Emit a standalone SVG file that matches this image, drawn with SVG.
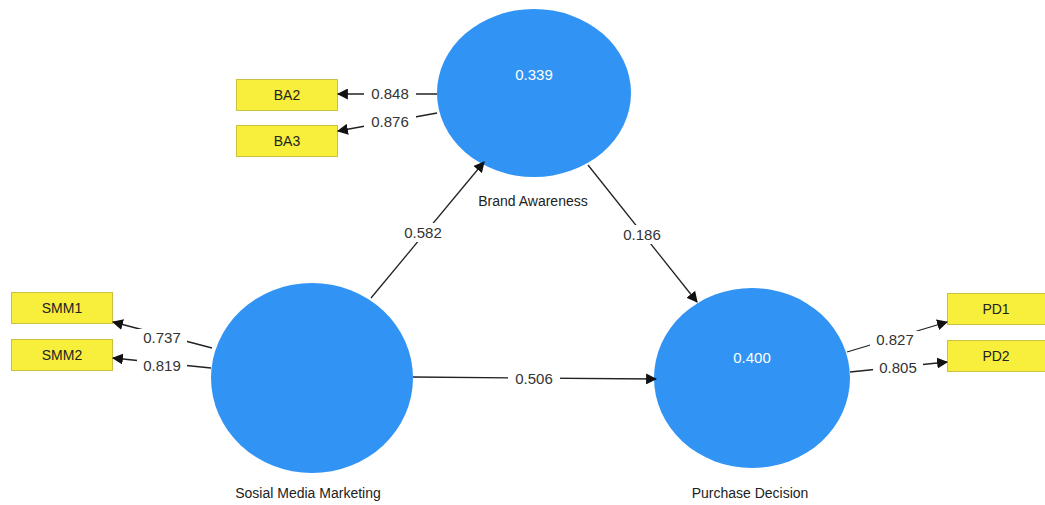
<svg xmlns="http://www.w3.org/2000/svg" width="1045" height="505" viewBox="0 0 1045 505">
<style>
.lv{fill:#3193f3;}
.ind{fill:#f7ef3b;stroke:#c9c23f;stroke-width:1;}
.t{font-family:"Liberation Sans",Arial,sans-serif;font-size:14px;fill:#222;text-anchor:middle;}
.w{font-family:"Liberation Sans",Arial,sans-serif;font-size:15px;fill:#fff;text-anchor:middle;}
.e{stroke:#222;stroke-width:1.3;fill:none;marker-end:url(#ah);}
.lb{font-family:"Liberation Sans",Arial,sans-serif;font-size:15px;fill:#333;text-anchor:middle;}
.bg{fill:#fff;}
</style>
<defs>
<marker id="ah" viewBox="0 0 10 10" refX="9" refY="5" markerWidth="11" markerHeight="11" markerUnits="userSpaceOnUse" orient="auto">
<path d="M0,0 L10,5 L0,10 Z" fill="#111"/>
</marker>
</defs>
<g id="brand-awareness">
<ellipse class="lv" cx="534" cy="93" rx="97" ry="84"/>
<text class="w" x="534" y="80">0.339</text>
<text class="t" x="533" y="206">Brand Awareness</text>
</g>
<g id="sosial-media-marketing">
<ellipse class="lv" cx="312" cy="378" rx="101" ry="95"/>
<text class="t" x="308" y="498">Sosial Media Marketing</text>
</g>
<g id="purchase-decision">
<ellipse class="lv" cx="752" cy="378" rx="98" ry="90"/>
<text class="w" x="752" y="363">0.400</text>
<text class="t" x="750" y="498">Purchase Decision</text>
</g>
<g id="BA2"><rect class="ind" x="236.5" y="79.5" width="101" height="31"/><text class="t" x="287" y="100">BA2</text></g>
<g id="BA3"><rect class="ind" x="236.5" y="125.5" width="101" height="31"/><text class="t" x="287" y="146">BA3</text></g>
<g id="SMM1"><rect class="ind" x="11.5" y="292.5" width="101" height="31"/><text class="t" x="62" y="313">SMM1</text></g>
<g id="SMM2"><rect class="ind" x="11.5" y="339.5" width="101" height="31"/><text class="t" x="62" y="360">SMM2</text></g>
<g id="PD1"><rect class="ind" x="947.5" y="293.5" width="100" height="31"/><text class="t" x="996" y="314">PD1</text></g>
<g id="PD2"><rect class="ind" x="947.5" y="340.5" width="100" height="31"/><text class="t" x="996" y="361">PD2</text></g>
<g id="connectors">
<line class="e" x1="437" y1="94" x2="338" y2="94"/>
<rect class="bg" x="364" y="85" width="52" height="18"/>
<text class="lb" x="390" y="99">0.848</text>
<line class="e" x1="437" y1="113" x2="338" y2="131"/>
<rect class="bg" x="364" y="113" width="52" height="18"/>
<text class="lb" x="390" y="127">0.876</text>
<line class="e" x1="212" y1="348" x2="113" y2="322"/>
<rect class="bg" x="137" y="329" width="50" height="18"/>
<text class="lb" x="162" y="343">0.737</text>
<line class="e" x1="211" y1="368" x2="113" y2="358"/>
<rect class="bg" x="137" y="357" width="50" height="18"/>
<text class="lb" x="162" y="371">0.819</text>
<line class="e" x1="847" y1="352" x2="947" y2="322"/>
<rect class="bg" x="870" y="331" width="50" height="18"/>
<text class="lb" x="895" y="345">0.827</text>
<line class="e" x1="850" y1="372" x2="947" y2="362"/>
<rect class="bg" x="873" y="359" width="50" height="18"/>
<text class="lb" x="898" y="373">0.805</text>
<line class="e" x1="371" y1="298" x2="484" y2="162"/>
<rect class="bg" x="398" y="223" width="50" height="19"/>
<text class="lb" x="423" y="238">0.582</text>
<line class="e" x1="588" y1="165" x2="697" y2="302"/>
<rect class="bg" x="616" y="225" width="52" height="19"/>
<text class="lb" x="642" y="240">0.186</text>
<line class="e" x1="413" y1="377" x2="656" y2="379"/>
<rect class="bg" x="508" y="369" width="52" height="19"/>
<text class="lb" x="534" y="384">0.506</text>
</g>
</svg>
